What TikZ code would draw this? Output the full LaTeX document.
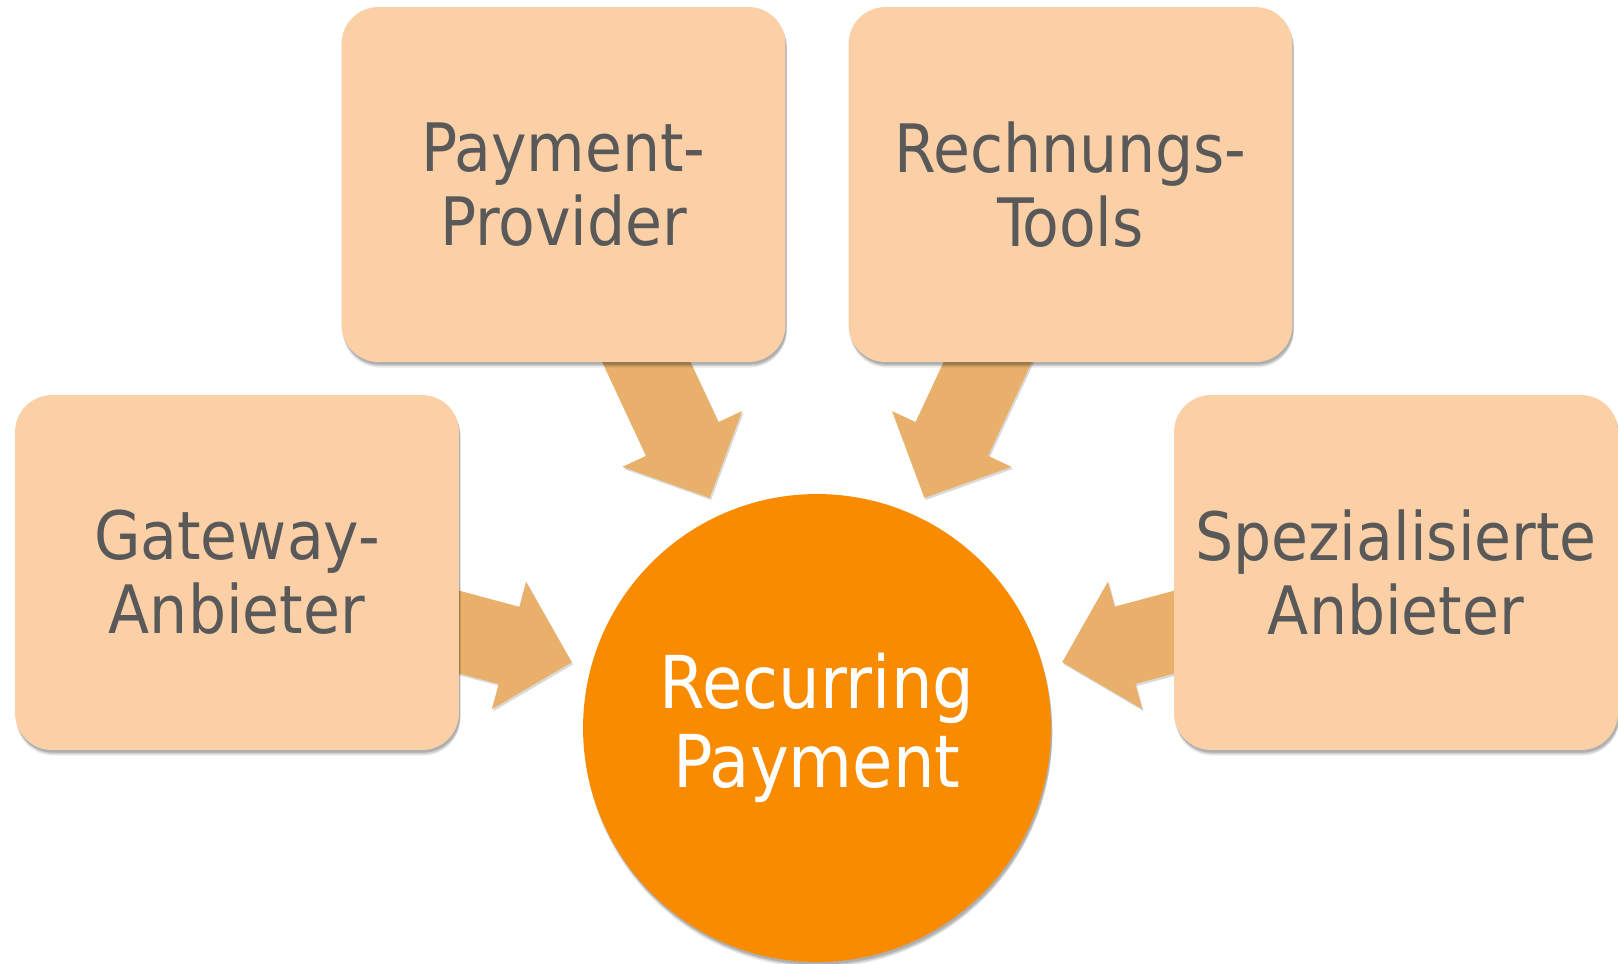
\documentclass[tikz,border=0pt]{standalone}
\usepackage{fontspec}
\newfontfamily\boxfont{DejaVuSansCondensed.ttf}
\usetikzlibrary{calc,shadows}
\definecolor{boxfill}{HTML}{FCD0A6}
\definecolor{arrowfill}{HTML}{E9B06B}
\definecolor{circfill}{HTML}{F98B00}
\definecolor{txtgray}{HTML}{595959}
\tikzset{
  softshadow/.style={
    general shadow={shadow xshift=0.6pt,shadow yshift=-3.2pt,opacity=0.08,fill=black},
    general shadow={shadow xshift=0.9pt,shadow yshift=-2.4pt,opacity=0.12,fill=black},
    general shadow={shadow xshift=0.6pt,shadow yshift=-1.5pt,opacity=0.15,fill=black}},
  arrowshadow/.style={drop shadow={shadow xshift=0.8pt,shadow yshift=-1.2pt,opacity=0.15,fill=black}},
  topicbox/.style={rectangle,rounded corners=0.74cm,minimum width=8.88cm,minimum height=7.1cm,
    fill=boxfill,softshadow,text=txtgray,align=center,
    font=\boxfont\fontsize{38}{42}\selectfont},
  hub/.style={circle,minimum size=9.36cm,inner sep=0pt,fill=circfill,softshadow,text=white,align=center,
    font=\boxfont\fontsize{41.5}{45}\selectfont},
  blockarrow/.style={fill=arrowfill,arrowshadow}
}
\newcommand{\blockarr}[2]{%
  % #1 = source node, #2 = target node
  \coordinate (T) at ($(#2.center)!5.08cm!(#1.center)$);
  \coordinate (H) at ($(T)!1.3cm!(#1.center)$);
  \fill[blockarrow]
    ($(#1.center)!0.8cm!-90:(T)$) --
    ($(H)!0.8cm!90:(#1.center)$) --
    ($(H)!1.32cm!90:(#1.center)$) --
    (T) --
    ($(H)!1.32cm!-90:(#1.center)$) --
    ($(H)!0.8cm!-90:(#1.center)$) --
    ($(#1.center)!0.8cm!90:(T)$) -- cycle;
}
\begin{document}
\begin{tikzpicture}[x=0.02cm,y=-0.02cm]
\useasboundingbox (0,0) rectangle (1618,963);
\coordinate (gwc) at (237,572.5);
\coordinate (ppc) at (563.5,184.5);
\coordinate (rtc) at (1070.5,184.5);
\coordinate (spc) at (1396,572.5);
\coordinate (hc) at (817,728);
\node[minimum size=0pt,inner sep=0pt] (gwa) at (gwc) {};
\node[minimum size=0pt,inner sep=0pt] (ppa) at (ppc) {};
\node[minimum size=0pt,inner sep=0pt] (rta) at (rtc) {};
\node[minimum size=0pt,inner sep=0pt] (spa) at (spc) {};
\node[minimum size=0pt,inner sep=0pt] (hca) at (hc) {};
\blockarr{gwa}{hca}
\blockarr{ppa}{hca}
\blockarr{rta}{hca}
\blockarr{spa}{hca}
\node[topicbox] (gw) at (gwc) {Gateway-\\Anbieter};
\node[topicbox] (pp) at (ppc) {Payment-\\Provider};
\node[topicbox] (rt) at (rtc) {Rechnungs-\\Tools};
\node[topicbox] (sp) at (spc) {Spezialisierte\\Anbieter};
\node[hub] (hub) at (hc) {Recurring\\Payment};
\end{tikzpicture}
\end{document}
